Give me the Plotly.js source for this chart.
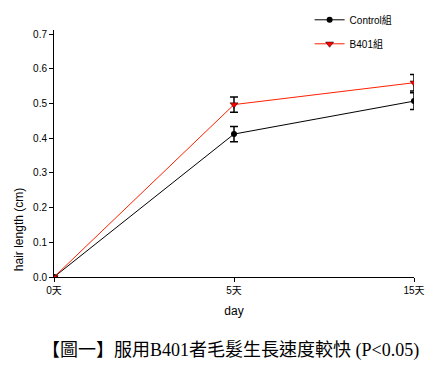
<!DOCTYPE html>
<html>
<head>
<meta charset="utf-8">
<script src="https://cdn.plot.ly/plotly-3.0.1.min.js"></script>
<style>html,body{margin:0;padding:0;background:#fff;}#chart{width:441px;height:373px;}</style>
</head>
<body>
<div id="chart"></div>
<script>
const days = ['0天', '5天', '15天'];
const controlValues = [0, 0.412, 0.507];
const controlErrors = [0, 0.022, 0.024];
const b401Values = [0, 0.497, 0.560];
const b401Errors = [0, 0.022, 0.024];
const yTicks = [0, 0.1, 0.2, 0.3, 0.4, 0.5, 0.6, 0.7];
const yTickLabels = ['0.0', '0.1', '0.2', '0.3', '0.4', '0.5', '0.6', '0.7'];
const seriesNames = ['Control組', 'B401組'];
const captionText = '【圖一】服用B401者毛髮生長速度較快 (P<0.05)';

const tickFont = {family: 'Liberation Sans, Arial, Noto Sans CJK TC, sans-serif', size: 10, color: '#000'};

const traces = [
  {
    x: days, y: controlValues, name: seriesNames[0], type: 'scatter', mode: 'lines+markers',
    legendgroup: 'a',
    line: {color: '#000', width: 1},
    marker: {symbol: 'circle', size: 6, color: '#000'},
    error_y: {type: 'data', array: controlErrors, visible: true, color: '#000', thickness: 1.5, width: 4}
  },
  {
    x: days, y: b401Values, name: seriesNames[1], type: 'scatter', mode: 'lines+markers',
    legendgroup: 'b',
    line: {color: '#ff2000', width: 1},
    marker: {symbol: 'triangle-down', size: 7, color: '#ff0000', line: {color: '#000', width: 0.5}},
    error_y: {type: 'data', array: b401Errors, visible: true, color: '#000', thickness: 1.5, width: 4}
  }
];

const layout = {
  width: 441, height: 373,
  margin: {l: 54, r: 27, t: 30, b: 96, autoexpand: false},
  paper_bgcolor: '#fff', plot_bgcolor: '#fff',
  showlegend: true,
  legend: {
    x: 0.71, y: 1.1, xanchor: 'left', yanchor: 'top',
    font: {family: 'Liberation Sans, Arial, Noto Sans CJK TC, sans-serif', size: 10, color: '#000'},
    bgcolor: 'rgba(0,0,0,0)', traceorder: 'grouped', tracegroupgap: 5,
    itemwidth: 30
  },
  xaxis: {
    type: 'category', range: [0, 2], showgrid: false, zeroline: false,
    showline: true, linecolor: '#000', linewidth: 1,
    ticks: 'outside', ticklen: 4, tickcolor: '#000', tickwidth: 1,
    tickfont: tickFont, automargin: false,
    title: {text: 'day', font: {family: 'Liberation Sans, Arial, sans-serif', size: 12, color: '#000'}, standoff: 11}
  },
  yaxis: {
    range: [0, 0.712], showgrid: false, zeroline: false,
    showline: true, linecolor: '#000', linewidth: 1,
    ticks: 'outside', ticklen: 4, tickcolor: '#000', tickwidth: 1,
    tickvals: yTicks, ticktext: yTickLabels, tickfont: tickFont, automargin: false
  },
  annotations: [
    {
      text: 'hair length (cm)', textangle: -90, showarrow: false,
      xref: 'paper', yref: 'paper', x: -0.097, y: 0.19, xanchor: 'center', yanchor: 'middle',
      font: {family: 'Liberation Sans, Arial, sans-serif', size: 12, color: '#000'}
    },
    {
      text: captionText, showarrow: false,
      xref: 'paper', yref: 'paper', x: 0.49, y: -0.295, xanchor: 'center', yanchor: 'middle',
      font: {family: 'Liberation Serif, Times New Roman, Noto Sans CJK TC, serif', size: 18, color: '#000'}
    }
  ]
};

Plotly.newPlot('chart', traces, layout, {displayModeBar: false, staticPlot: true});
</script>
</body>
</html>
